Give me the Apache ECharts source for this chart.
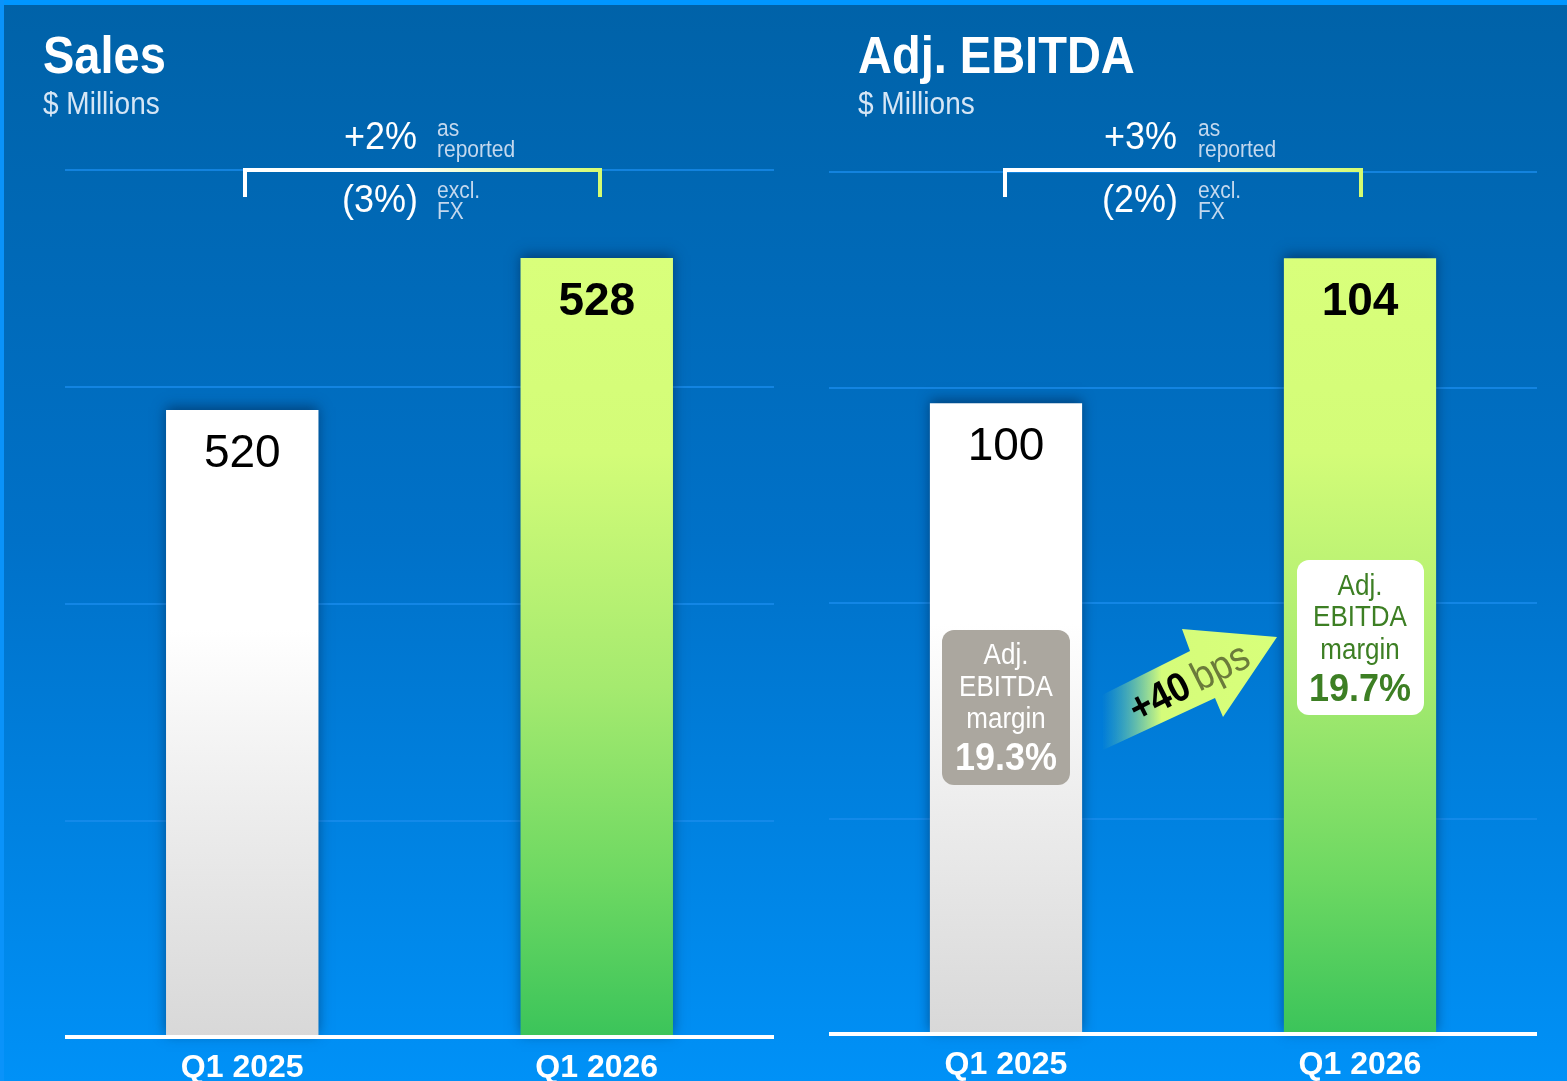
<!DOCTYPE html>
<html>
<head>
<meta charset="utf-8">
<script src="https://cdn.jsdelivr.net/npm/echarts@6/dist/echarts.min.js"></script>
<style>
  html, body { margin: 0; padding: 0; }
  .box-wrap { position: relative; width: 1567px; height: 1081px; overflow: hidden;
    background: linear-gradient(to bottom, #0062a8 0%, #0071c8 50%, #0091f7 100%); }
  #main { width: 1567px; height: 1081px; }
  .edge-top { position: absolute; left: 0; top: 0; width: 100%; height: 5px; background: #0096ff; }
  .edge-left { position: absolute; left: 0; top: 0; width: 4px; height: 100%; background: #0a93fa; }
</style>
</head>
<body>
<div class="box-wrap">
  <div id="main"></div>
  <div class="edge-top"></div>
  <div class="edge-left"></div>
</div>
<script>
// data
const categories = ['Q1 2025', 'Q1 2026'];
const salesValues = [520, 528];
const ebitdaValues = [100, 104];
const marginValues = [19.3, 19.7];
const salesChange = ['+2%', '(3%)'];
const ebitdaChange = ['+3%', '(2%)'];
const marginDelta = '+40';

const FONT = '"Liberation Sans", Arial, sans-serif';
const SY = 1.1; // slide text is a bit taller than wide

const whiteBar = {
  type: 'linear', x: 0, y: 0, x2: 0, y2: 1,
  colorStops: [
    { offset: 0, color: '#ffffff' },
    { offset: 0.35, color: '#ffffff' },
    { offset: 0.65, color: '#ececec' },
    { offset: 1, color: '#d8d8d8' }
  ]
};
const greenBar = {
  type: 'linear', x: 0, y: 0, x2: 0, y2: 1,
  colorStops: [
    { offset: 0, color: '#d9ff7b' },
    { offset: 0.25, color: '#d3fc78' },
    { offset: 0.55, color: '#a5ea6f' },
    { offset: 0.8, color: '#6dd862' },
    { offset: 1, color: '#3bc45a' }
  ]
};

function barData(values) {
  return values.map((v, i) => ({
    value: v,
    itemStyle: { color: i === 0 ? whiteBar : greenBar },
    label: { fontWeight: i === 0 ? 'normal' : 'bold' }
  }));
}

function barSeries(idx, values) {
  return {
    type: 'bar',
    xAxisIndex: idx,
    yAxisIndex: idx * 2,
    barWidth: '43%',
    data: barData(values),
    itemStyle: {
      shadowBlur: 12,
      shadowOffsetY: -3,
      shadowColor: 'rgba(0,20,50,0.5)'
    },
    label: {
      show: true,
      position: 'insideTop',
      distance: 21,
      color: '#000',
      fontSize: 46,
      fontFamily: FONT
    },
    z: 3
  };
}

function xAxis(gridIndex) {
  return {
    type: 'category',
    gridIndex,
    data: categories,
    axisLine: { show: true, lineStyle: { color: '#ffffff', width: 4, cap: 'butt' } },
    axisTick: { show: false },
    axisLabel: { color: '#fff', fontSize: 32, fontWeight: 'bold', fontFamily: FONT, margin: 15 },
    z: 5
  };
}

function valueAxis(gridIndex, min, max) {
  return {
    type: 'value', gridIndex, min, max,
    axisLine: { show: false }, axisTick: { show: false },
    axisLabel: { show: false }, splitLine: { show: false }
  };
}

function lineAxis(gridIndex) {
  return {
    type: 'value', gridIndex, min: 0, max: 4, interval: 1,
    axisLine: { show: false }, axisTick: { show: false },
    axisLabel: { show: false },
    splitLine: { show: true, lineStyle: { color: '#1a8cec', width: 1.5 } }
  };
}

function txt(x, y, text, font, fill, align, lh) {
  return {
    type: 'text', x, y, z: 20, scaleY: SY,
    style: { text, font, fill, align: align || 'left', verticalAlign: 'middle', lineHeight: lh }
  };
}

function bracket(x1, x2, y) {
  return {
    type: 'polyline', z: 20,
    shape: { points: [[x1, y + 27], [x1, y], [x2, y], [x2, y + 27]] },
    style: {
      lineWidth: 4, fill: null,
      stroke: {
        type: 'linear', x: 0, y: 0, x2: 1, y2: 0,
        colorStops: [
          { offset: 0, color: '#ffffff' },
          { offset: 0.45, color: '#ffffff' },
          { offset: 1, color: '#d4fb6f' }
        ]
      }
    }
  };
}

const pale = '#c3d8ee';
const greenText = '#3d7f24';

const graphics = [
  txt(43, 59, 'Sales', 'bold 47px ' + FONT, '#fff'),
  txt(43, 106, '$ Millions', '28px ' + FONT, '#d6e6f5'),
  txt(858, 59, 'Adj. EBITDA', 'bold 47px ' + FONT, '#fff'),
  txt(858, 106, '$ Millions', '28px ' + FONT, '#d6e6f5'),

  bracket(245, 600, 170),
  txt(417, 138, salesChange[0], '36px ' + FONT, '#fff', 'right'),
  txt(437, 140, 'as\nreported', '21px ' + FONT, pale, 'left', 19),
  txt(418, 201, salesChange[1], '36px ' + FONT, '#fff', 'right'),
  txt(437, 202, 'excl.\nFX', '21px ' + FONT, pale, 'left', 19),

  bracket(1005, 1361, 170),
  txt(1177, 138, ebitdaChange[0], '36px ' + FONT, '#fff', 'right'),
  txt(1198, 140, 'as\nreported', '21px ' + FONT, pale, 'left', 19),
  txt(1178, 201, ebitdaChange[1], '36px ' + FONT, '#fff', 'right'),
  txt(1198, 202, 'excl.\nFX', '21px ' + FONT, pale, 'left', 19),

  // margin boxes
  { type: 'rect', z: 15, shape: { x: 942, y: 630, width: 128, height: 155, r: 12 }, style: { fill: '#aba79f' } },
  txt(1006, 656, 'Adj.', '26px ' + FONT, '#fff', 'center'),
  txt(1006, 688, 'EBITDA', '26px ' + FONT, '#fff', 'center'),
  txt(1006, 720, 'margin', '26px ' + FONT, '#fff', 'center'),
  txt(1006, 759, marginValues[0].toFixed(1) + '%', 'bold 36px ' + FONT, '#fff', 'center'),

  { type: 'rect', z: 15, shape: { x: 1297, y: 560, width: 127, height: 155, r: 12 }, style: { fill: '#ffffff' } },
  txt(1360, 587, 'Adj.', '26px ' + FONT, greenText, 'center'),
  txt(1360, 618, 'EBITDA', '26px ' + FONT, greenText, 'center'),
  txt(1360, 651, 'margin', '26px ' + FONT, greenText, 'center'),
  txt(1360, 690, marginValues[1].toFixed(1) + '%', 'bold 36px ' + FONT, greenText, 'center'),

  // +40 bps arrow
  {
    type: 'polygon', z: 15,
    shape: { points: [[1102, 695], [1190, 651], [1182, 629], [1277, 637], [1223, 717], [1215, 698], [1103, 750]] },
    style: {
      fill: {
        type: 'linear', x: 0, y: 0, x2: 1, y2: 0,
        colorStops: [
          { offset: 0, color: 'rgba(120,220,160,0)' },
          { offset: 0.34, color: '#d5fc7a' },
          { offset: 1, color: '#d8ff7a' }
        ]
      }
    }
  },
  {
    type: 'text', x: 1190, y: 684, z: 20, rotation: 0.47, scaleY: SY,
    style: {
      text: '{a|' + marginDelta + '}  {b|bps}',
      align: 'center', verticalAlign: 'middle',
      rich: {
        a: { font: 'bold 37px ' + FONT, fill: '#000' },
        b: { font: '37px ' + FONT, fill: '#6b7b3b' }
      }
    }
  }
];

const thatOption = {
  backgroundColor: 'transparent',
  animation: false,
  grid: [
    { left: 65, right: 793, top: 170, bottom: 44, outerBoundsMode: 'none' },
    { left: 829, right: 30, top: 172, bottom: 47, outerBoundsMode: 'none' }
  ],
  xAxis: [xAxis(0), xAxis(1)],
  yAxis: [
    valueAxis(0, 487, 532.63), lineAxis(0),
    valueAxis(1, 82.6, 106.38), lineAxis(1)
  ],
  series: [barSeries(0, salesValues), barSeries(1, ebitdaValues)],
  graphic: graphics
};

const myChart = echarts.init(document.getElementById('main'));
myChart.setOption(thatOption);
</script>
</body>
</html>
